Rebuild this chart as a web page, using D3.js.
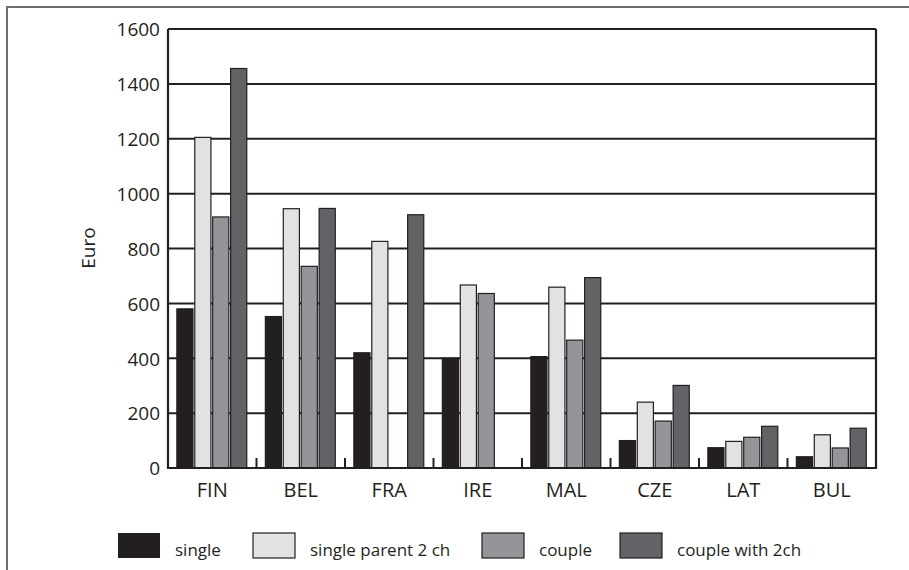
<!DOCTYPE html>
<html><head><meta charset="utf-8">
<script src="https://cdn.jsdelivr.net/npm/d3@7"></script>
<style>
html,body{margin:0;padding:0;background:#fff;}
svg{display:block;}
text{font-family:"Open Sans","Noto Sans",sans-serif;fill:#231f20;}
</style></head>
<body>
<svg id="chart" width="909" height="570"></svg>
<script>
const categories = ["FIN","BEL","FRA","IRE","MAL","CZE","LAT","BUL"];
const seriesNames = ["single","single parent 2 ch","couple","couple with 2ch"];
const single       = [580, 552, 420, 400, 406, 100, 74, 41];
const singleParent = [1205, 945, 826, 667, 659, 240, 97, 121];
const couple       = [915, 735, 0, 636, 466, 171, 112, 73];
const coupleWith2  = [1456, 946, 923, 0, 694, 301, 152, 145];
const yTicks = [0,200,400,600,800,1000,1200,1400,1600];
const colors = ["#231f20","#e1e2e4","#939598","#626366"];

const seriesValues = [single, singleParent, couple, coupleWith2];
const svg = d3.select("#chart");

// outer frame
svg.append("rect").attr("x",7).attr("y",7).attr("width",920).attr("height",600)
  .attr("fill","none").attr("stroke","#6d6e71").attr("stroke-width",2);

const L=168, R=876, T=29, B=468;
const x0 = d3.scaleBand().domain(categories).range([L,R]).padding(0);
const x1 = d3.scaleBand().domain(d3.range(4)).range([x0.bandwidth()*0.1, x0.bandwidth()*0.89]).paddingInner(0.1);
const y = d3.scaleLinear().domain([0,1600]).range([B,T]);

// gridlines
svg.append("g").selectAll("line").data(yTicks.slice(1)).join("line")
  .attr("x1",L).attr("x2",R).attr("y1",d=>y(d)).attr("y2",d=>y(d))
  .attr("stroke","#231f20").attr("stroke-width",2);

// bars
const groups = svg.append("g").selectAll("g").data(categories).join("g")
  .attr("transform",d=>`translate(${x0(d)},0)`);
groups.selectAll("rect").data((c,i)=>seriesValues.map((s,k)=>({k, v:s[i]})).filter(d=>d.v>0))
  .join("rect")
  .attr("x",d=>x1(d.k)).attr("width",x1.bandwidth())
  .attr("y",d=>y(d.v)).attr("height",d=>B-y(d.v))
  .attr("fill",d=>colors[d.k]).attr("stroke","#231f20").attr("stroke-width",1.2);

// y axis
const yAxis = d3.axisLeft(y).tickValues(yTicks).tickFormat(d3.format("d")).tickSize(0).tickPadding(8);
const ya = svg.append("g").attr("transform",`translate(${L},0)`).call(yAxis);
ya.select(".domain").remove();
ya.selectAll("text").style("font-size","19px").attr("dy","0.36em").style("fill","#231f20");

// x axis (ticks at category boundaries)
const boundaries = categories.map(c=>x0(c)).slice(1);
svg.append("g").selectAll("line").data(boundaries).join("line")
  .attr("x1",d=>d).attr("x2",d=>d).attr("y1",B).attr("y2",B-10)
  .attr("stroke","#231f20").attr("stroke-width",2);
const xAxis = d3.axisBottom(x0).tickSize(0).tickPadding(15);
const xa = svg.append("g").attr("transform",`translate(0,${B})`).call(xAxis);
xa.select(".domain").remove();
xa.selectAll("text").style("font-size","20px").attr("dy","0.71em").style("fill","#231f20");

// plot frame: left, bottom, right
svg.append("path").attr("d",`M${L},${T}V${B}H${R}V${T}`).attr("fill","none")
  .attr("stroke","#231f20").attr("stroke-width",2.2);

// y label
svg.append("text").attr("transform",`translate(95,248) rotate(-90)`)
  .attr("text-anchor","middle").style("font-size","19px").text("Euro");

// legend
const legX = [118, 253, 482, 620];
const leg = svg.append("g").selectAll("g").data(seriesNames).join("g")
  .attr("transform",(d,i)=>`translate(${legX[i]},533)`);
leg.append("rect").attr("width",42).attr("height",25)
  .attr("fill",(d,i)=>colors[i]).attr("stroke",(d,i)=>i===0?"none":"#231f20").attr("stroke-width",1.2);
leg.append("text").attr("x",57).attr("y",23)
  .style("font-size","17px").text(d=>d);
</script>
</body></html>
